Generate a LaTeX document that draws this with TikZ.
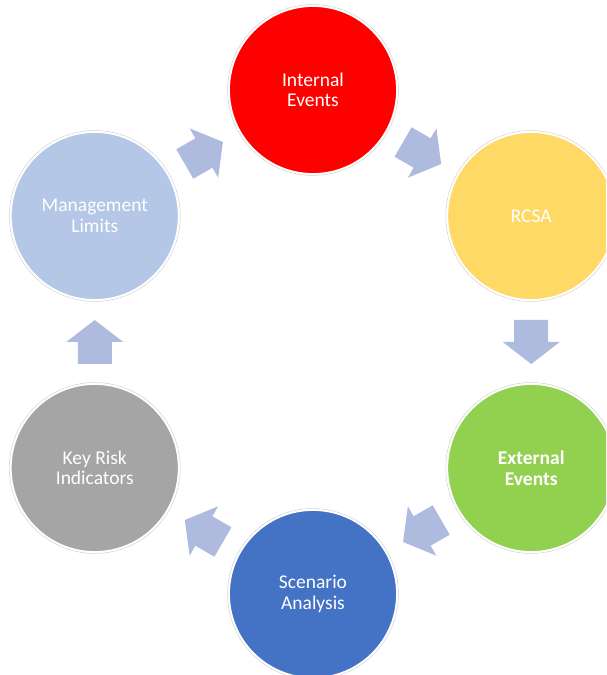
\documentclass[tikz,border=0pt]{standalone}
\usepackage{fontspec}
\setmainfont{Carlito}
\usetikzlibrary{calc}

\definecolor{ieRed}{RGB}{255,0,0}
\definecolor{rcsaYellow}{RGB}{255,217,102}
\definecolor{extGreen}{RGB}{146,208,80}
\definecolor{scenBlue}{RGB}{68,114,196}
\definecolor{kriGray}{RGB}{165,165,165}
\definecolor{mlBlue}{RGB}{180,199,231}
\definecolor{arrowFill}{RGB}{174,187,222}

\tikzset{
  bubble/.style={circle, minimum size=168pt, inner sep=0pt, draw=white,
    line width=1.8pt, text=white, align=center,
    font=\fontsize{19.5}{20.5}\selectfont},
  rim/.style={draw=gray!35, line width=0.6pt},
  blockarrow/.pic={
    \fill[arrowFill] (-22,-17) -- (0,-17) -- (0,-28.5) -- (22,0)
      -- (0,28.5) -- (0,17) -- (-22,17) -- cycle;
  }
}

\begin{document}
\begin{tikzpicture}[x=1pt, y=1pt]
  \useasboundingbox (0,0) rectangle (606,675);
  \clip (0,0) rectangle (606,675);

  % centre of the cycle
  \coordinate (o) at (313,333);

  % outer rims of the six stages
  \foreach \a in {90,30,-30,-90,210,150}
    \draw[rim] ([shift={(\a:252)}]o) circle (85.4);

  % the six stages, clockwise from the top
  \node[bubble, fill=ieRed]      (ie)  at ([shift={(90:252)}]o)  {Internal\\Events};
  \node[bubble, fill=rcsaYellow] (rc)  at ([shift={(30:252)}]o)  {RCSA};
  \node[bubble, fill=extGreen, font=\fontsize{19.5}{20.5}\selectfont\bfseries]
                                 (ext) at ([shift={(-30:252)}]o) {External\\Events};
  \node[bubble, fill=scenBlue]   (sc)  at ([shift={(-90:252)}]o) {Scenario\\Analysis};
  \node[bubble, fill=kriGray]    (kri) at ([shift={(210:252)}]o) {Key Risk\\Indicators};
  \node[bubble, fill=mlBlue]     (ml)  at ([shift={(150:252)}]o) {Management\\Limits};

  % block arrows between consecutive stages
  \path ($(ie)!0.5!(rc)$)   pic[rotate=-30]  {blockarrow};
  \path ($(rc)!0.5!(ext)$)  pic[rotate=-90]  {blockarrow};
  \path ($(ext)!0.5!(sc)$)  pic[rotate=-150] {blockarrow};
  \path ($(sc)!0.5!(kri)$)  pic[rotate=150]  {blockarrow};
  \path ($(kri)!0.5!(ml)$)  pic[rotate=90]   {blockarrow};
  \path ($(ml)!0.5!(ie)$)   pic[rotate=30]   {blockarrow};
\end{tikzpicture}
\end{document}
